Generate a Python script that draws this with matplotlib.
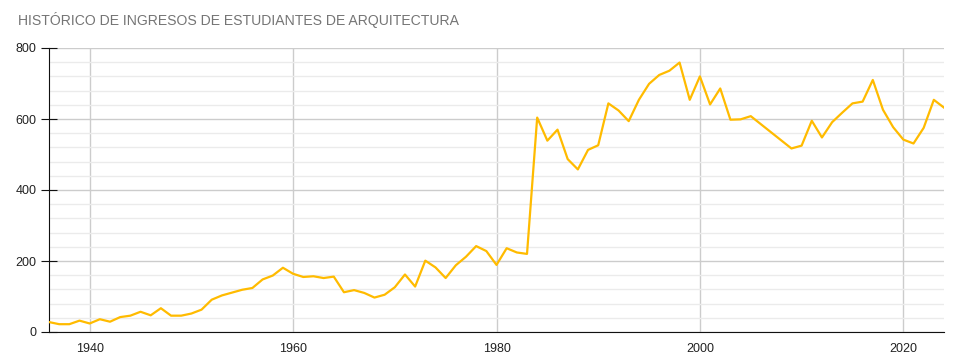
import matplotlib.pyplot as plt
from matplotlib.ticker import MultipleLocator

# Ingresos por año (2006-2008 sin dato, la línea une 2005 con 2009)
years = list(range(1936, 2006)) + list(range(2009, 2025))
ingresos = [
    28, 22, 22, 32, 24, 36, 29, 42, 46, 57,      # 1936-1945
    47, 67, 46, 46, 52, 63, 91, 103, 111, 119,   # 1946-1955
    124, 148, 159, 181, 164, 155, 157, 152, 156, 112,  # 1956-1965
    118, 110, 97, 105, 126, 162, 128, 201, 182, 152,   # 1966-1975
    188, 212, 242, 228, 189, 236, 224, 220, 604, 539,  # 1976-1985
    570, 487, 458, 513, 526, 644, 624, 594, 654, 699,  # 1986-1995
    724, 736, 759, 654, 720, 641, 686, 598, 599, 608,  # 1996-2005
    517, 525, 595, 548, 591, 618, 644, 649, 710, 626,  # 2009-2018
    577, 542, 531, 575, 654, 632,                      # 2019-2024
]
x_ticks = [1940, 1960, 1980, 2000, 2020]
titulo = 'HISTÓRICO DE INGRESOS DE ESTUDIANTES DE ARQUITECTURA'

plt.rcParams['font.family'] = ['Liberation Sans', 'DejaVu Sans']

fig = plt.figure(figsize=(9.58, 3.64), dpi=100)
ax = fig.add_axes([49 / 958, 1 - 332 / 364, (944 - 49) / 958, (332 - 48) / 364])

ax.plot(years, ingresos, color='#ffbb00', linewidth=1.6, zorder=3)

ax.set_xlim(1936, 2024)
ax.set_ylim(0, 800)
ax.set_xticks(x_ticks)
ax.yaxis.set_major_locator(MultipleLocator(200))
ax.yaxis.set_minor_locator(MultipleLocator(40))

ax.grid(axis='x', color='#cccccc', linewidth=1)
ax.grid(axis='y', which='major', color='#cccccc', linewidth=1)
ax.grid(axis='y', which='minor', color='#ebebeb', linewidth=1)
ax.set_axisbelow(True)

for side in ['top', 'right']:
    ax.spines[side].set_visible(False)
ax.spines['left'].set_color('#111111')
ax.spines['bottom'].set_color('#111111')

ax.tick_params(axis='x', length=0, pad=8, labelsize=9, labelcolor='#222222')
ax.tick_params(axis='y', which='major', direction='inout', length=12,
               color='#111111', pad=3, labelsize=9, labelcolor='#222222')
ax.tick_params(axis='y', which='minor', length=0)

fig.text(18 / 958, 1 - 20 / 364, titulo, fontsize=10.1, color='#757575', va='center', ha='left')

plt.savefig('out.png', dpi=100)
